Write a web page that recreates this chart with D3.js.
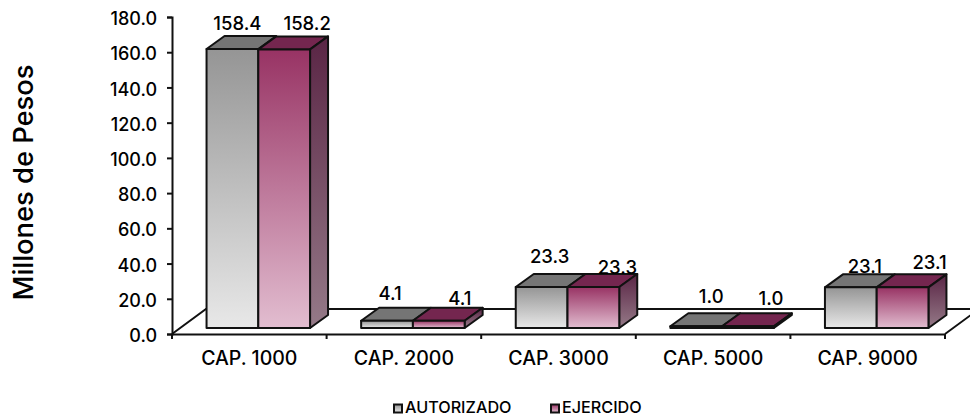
<!DOCTYPE html>
<html><head><meta charset="utf-8">
<script src="https://cdn.jsdelivr.net/npm/d3@7"></script>
<style>
html,body{margin:0;padding:0;background:#fff;overflow:hidden}
svg{display:block}
text{font-family:Inter,Lato,"Noto Sans",sans-serif;fill:#000;font-weight:500}
</style></head><body>
<svg id="c" width="970" height="417"></svg>
<script>
const categories=["CAP. 1000","CAP. 2000","CAP. 3000","CAP. 5000","CAP. 9000"];
const autorizado=[158.4,4.1,23.3,1.0,23.1];
const ejercido=[158.2,4.1,23.3,1.0,23.1];
const yTicks=[0,20,40,60,80,100,120,140,160,180];
const seriesNames=["AUTORIZADO","EJERCIDO"];
const yTitle="Millones de Pesos";

const W=970,H=417;
const svg=d3.select("#c");
const y=d3.scaleLinear().domain([0,180]).range([334,17]);
const x0=d3.scaleBand().domain(categories).range([172,945]);
const x1=d3.scaleBand().domain([0,1]).range([0,103.5]);
const wall={dx:34,dy:25};
const bar={dx:18,dy:13,base:6,shift:9};
// label nudges relative to each bar's back-top edge
const nudgeA=[[-13,-3],[-15,-5],[-10,-8],[-3,-7],[-4,2]];
const nudgeE=[[5,-3],[3,0],[6,3],[5,-5],[9,-2]];

const defs=svg.append("defs");
function grad(id,c0,c1){
  const g=defs.append("linearGradient").attr("id",id).attr("x1",0).attr("y1",0).attr("x2",0).attr("y2",1);
  g.append("stop").attr("offset","0%").attr("stop-color",c0);
  g.append("stop").attr("offset","100%").attr("stop-color",c1);
}
grad("fA","#959595","#e8e8e8");
grad("fE","#983364","#e2bdd0");
grad("sE","#5a2545","#957a88");
grad("sA","#5c5c5c","#8c8c8c");
const fronts=["url(#fA)","url(#fE)"],tops=["#757575","#74264f"],sides=["url(#sA)","url(#sE)"];

const ink="#111";
const g=svg.append("g");
const pts=a=>a.map(p=>p.join(",")).join(" ");
g.append("polyline").attr("fill","none").attr("stroke",ink).attr("stroke-width",2)
 .attr("points",pts([[x0.range()[0],y(0)],[x0.range()[0]+wall.dx,y(0)-wall.dy],[x0.range()[1]+wall.dx,y(0)-wall.dy],[x0.range()[1],y(0)]]));

const yAxis=d3.axisLeft(y).tickValues(yTicks).tickSize(5).tickFormat(d3.format(".1f"));
const xAxis=d3.axisBottom(x0).tickSize(0);
const ga=svg.append("g");
const gy=ga.append("g").attr("transform","translate(172,0)").call(yAxis);
const gx=ga.append("g").attr("transform",`translate(0,${y(0)})`).call(xAxis);
gx.selectAll(".tick").remove();
gx.selectAll(".cap").data(categories).join("text").attr("class","cap")
  .attr("x",d=>x0(d)+x0.bandwidth()/2).attr("y",31).attr("text-anchor","middle").attr("font-size",19.5).text(d=>d);
gx.selectAll(".tk").data(x0.domain().map(d=>x0(d)).concat(x0.range()[1])).join("line").attr("class","tk")
  .attr("x1",d=>d).attr("x2",d=>d).attr("y1",0).attr("y2",5).attr("stroke",ink).attr("stroke-width",2);
ga.selectAll(".domain").attr("stroke",ink).attr("stroke-width",2);
gy.selectAll(".tick line").attr("stroke",ink).attr("stroke-width",2);
gy.selectAll(".tick text").attr("x",-15).attr("font-size",18).attr("dy","0.42em");
gx.attr("font-family",null);gy.attr("font-family",null);

const rows=categories.map((c,i)=>({c,i,vals:[autorizado[i],ejercido[i]]}));
rows.forEach(r=>{
  const gb=g.append("g");
  [0,1].forEach(s=>{
    const v=r.vals[s];
    const xl=x0(r.c)+x0.bandwidth()/2+bar.shift-x1.range()[1]/2+x1(s), xr=xl+x1.bandwidth();
    const yb=y(0)-bar.base, yt=yb-(y(0)-y(v));
    const bg=gb.append("g").attr("stroke",ink).attr("stroke-width",2).attr("stroke-linejoin","round");
    bg.append("polygon").attr("points",pts([[xl,yt],[xl+bar.dx,yt-bar.dy],[xr+bar.dx,yt-bar.dy],[xr,yt]])).attr("fill",tops[s]);
    if(s===1) bg.append("polygon").attr("points",pts([[xr,yt],[xr+bar.dx,yt-bar.dy],[xr+bar.dx,yb-bar.dy],[xr,yb]])).attr("fill",sides[s]);
    bg.append("rect").attr("x",xl).attr("y",yt).attr("width",xr-xl).attr("height",yb-yt).attr("fill",fronts[s]);
    const n=(s?nudgeE:nudgeA)[r.i];
    svg.append("text").attr("x",xl+x1.bandwidth()/2+bar.dx+n[0]).attr("y",yt-bar.dy+n[1]-3)
       .attr("text-anchor","middle").attr("font-size",18.5).text(d3.format(".1f")(v));
  });
});

svg.append("text").attr("transform","translate(33,182.5) rotate(-90)").attr("text-anchor","middle").attr("font-size",27.3).text(yTitle);

const lx=[394,551];
seriesNames.forEach((n,i)=>{
  svg.append("rect").attr("x",lx[i]).attr("y",404.5).attr("width",8).attr("height",8).attr("fill",fronts[i]).attr("stroke",ink).attr("stroke-width",2);
  svg.append("text").attr("x",lx[i]+11).attr("y",413).attr("font-size",16.2).text(n);
});
</script></body></html>
